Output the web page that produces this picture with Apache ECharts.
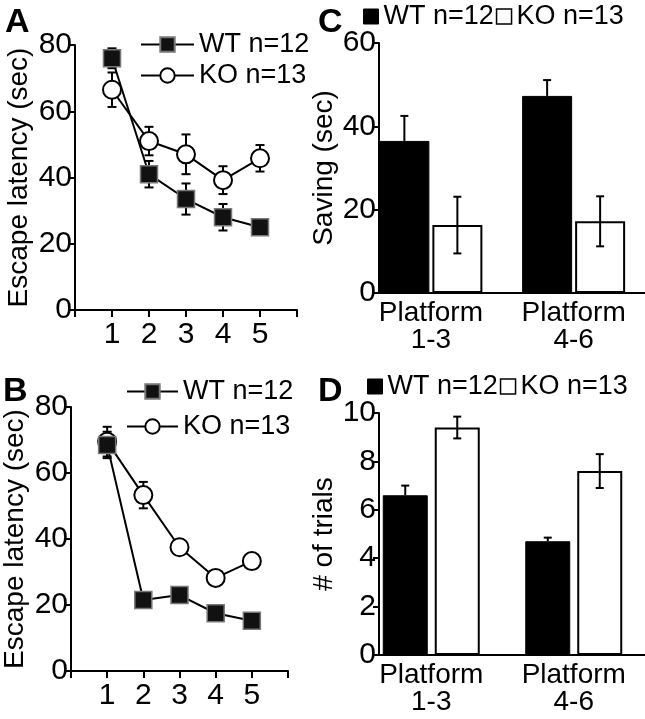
<!DOCTYPE html>
<html><head><meta charset="utf-8">
<script src="https://cdn.jsdelivr.net/npm/echarts@6/dist/echarts.min.js"></script>
<style>html,body{margin:0;padding:0;background:#fff}#c{width:645px;height:719px}</style>
</head><body><div id="c"></div>
<script>
// ---- data ----
const trials = [1, 2, 3, 4, 5];
const aWT = [76, 41, 33.5, 28, 25];
const aWTerr = [3, 4, 4.7, 4, 1.5];
const aKO = [66.5, 51, 47, 39.2, 45.8];
const aKOerr = [5.2, 4.3, 6, 4.2, 4];
const bWT = [68.5, 21.5, 23, 17.5, 15.2];
const bWTerr = [4, 1.2, 1.2, 1.2, 1];
const bKO = [69.5, 53.3, 37.5, 28.2, 33.3];
const bKOerr = [4.5, 4, 1.2, 1.2, 1.2];
const platforms = ['Platform\n1-3', 'Platform\n4-6'];
const cWT = [36.5, 47.3];
const cWTerr = [6, 3.8];
const cKO = [16.3, 17.2];
const cKOerr = [6.8, 6];
const dWT = [6.6, 4.7];
const dWTerr = [0.4, 0.15];
const dKO = [9.4, 7.6];
const dKOerr = [0.45, 0.7];
const legendLabels = {wtA: 'WT n=12', koA: 'KO n=13', wtB: 'WT n=12', koB: 'KO n=13',
  wtC: 'WT n=12', koC: 'KO n=13', wtD: 'WT n=12', koD: 'KO n=13'};

// ---- styling ----
const FONT = 'Liberation Sans, Arial, Helvetica, sans-serif';
const BLACK = '#000';
const C_BW = 50, C_GAP = 3;
const D_BW = 45, D_GAP = 7;

function errRender(offset, both, capW) {
  return function (params, api) {
    const x = api.value(0), y = api.value(1), e = api.value(2);
    const p = api.coord([x, y]);
    const t = api.coord([x, y + e]);
    const b = api.coord([x, y - e]);
    const cx = p[0] + offset;
    const st = {stroke: BLACK, lineWidth: 2};
    const ch = [
      {type: 'line', shape: {x1: cx, y1: t[1], x2: cx, y2: both ? b[1] : p[1]}, style: st},
      {type: 'line', shape: {x1: cx - capW / 2, y1: t[1], x2: cx + capW / 2, y2: t[1]}, style: st}
    ];
    if (both) ch.push({type: 'line', shape: {x1: cx - capW / 2, y1: b[1], x2: cx + capW / 2, y2: b[1]}, style: st});
    return {type: 'group', children: ch};
  };
}

const axisLineS = {show: true, lineStyle: {color: BLACK, width: 2}};
const tickS = (len, inside) => ({show: true, length: len, inside: !!inside, lineStyle: {color: BLACK, width: 2}});
const lblS = (extra) => Object.assign({color: BLACK, fontSize: 30, fontFamily: FONT}, extra || {});

function lineYAxis(grid) {
  return {gridIndex: grid, type: 'value', min: 0, max: 80, interval: 20,
    axisLine: axisLineS, axisTick: tickS(6), splitLine: {show: false},
    axisLabel: lblS({margin: 3}),
    name: 'Escape latency (sec)', nameLocation: 'middle', nameGap: 42,
    nameTextStyle: {color: BLACK, fontSize: 28, fontFamily: FONT}};
}
function lineXAxis(grid) {
  return {gridIndex: grid, type: 'value', min: 0, max: 6, interval: 1,
    axisLine: axisLineS, axisTick: tickS(7), splitLine: {show: false},
    axisLabel: lblS({margin: 10, formatter: v => trials.includes(v) ? String(v) : ''})};
}

const option = {
  animation: false,
  backgroundColor: '#fff',
  title: [
    {text: 'A', left: 5, top: 6},
    {text: 'B', left: 3, top: 375},
    {text: 'C', left: 318, top: 6},
    {text: 'D', left: 318, top: 375}
  ].map(t => Object.assign(t, {padding: 0, textStyle: {fontSize: 34, fontWeight: 'bold', color: BLACK, fontFamily: FONT}})),
  grid: [
    {left: 75, top: 45, width: 222, height: 265},
    {left: 67, top: 407, width: 221, height: 264},
    {left: 359.5, top: 43, width: 306, height: 250},
    {left: 379, top: 43, width: 270, height: 250},
    {left: 360, top: 413, width: 308, height: 242},
    {left: 379, top: 413, width: 270, height: 242}
  ],
  xAxis: [
    lineXAxis(0),
    lineXAxis(1),
    {gridIndex: 2, type: 'category', data: platforms, axisLine: {show: false}, axisTick: {show: false},
      axisLabel: lblS({fontSize: 28, lineHeight: 27, margin: 7})},
    {gridIndex: 3, type: 'value', min: 0, max: 1, axisLine: axisLineS, axisTick: {show: false}, axisLabel: {show: false}, splitLine: {show: false}},
    {gridIndex: 4, type: 'category', data: platforms, axisLine: {show: false}, axisTick: {show: false},
      axisLabel: lblS({fontSize: 28, lineHeight: 27, margin: 7})},
    {gridIndex: 5, type: 'value', min: 0, max: 1, axisLine: axisLineS, axisTick: {show: false}, axisLabel: {show: false}, splitLine: {show: false}}
  ],
  yAxis: [
    lineYAxis(0),
    lineYAxis(1),
    {gridIndex: 2, type: 'value', min: 0, max: 60, show: false},
    {gridIndex: 3, type: 'value', min: 0, max: 60, interval: 20,
      axisLine: axisLineS, axisTick: tickS(6), splitLine: {show: false}, axisLabel: lblS({margin: 3}),
      name: 'Saving (sec)', nameLocation: 'middle', nameGap: 36,
      nameTextStyle: {color: BLACK, fontSize: 28, fontFamily: FONT}},
    {gridIndex: 4, type: 'value', min: 0, max: 10, show: false},
    {gridIndex: 5, type: 'value', min: 0, max: 10, interval: 2,
      axisLine: axisLineS, axisTick: tickS(6), splitLine: {show: false}, axisLabel: lblS({margin: 3}),
      name: '# of trials', nameLocation: 'middle', nameGap: 39,
      nameTextStyle: {color: BLACK, fontSize: 28, fontFamily: FONT}}
  ],
  legend: [
    {left: 140, top: 31, orient: 'vertical', itemGap: 4, itemWidth: 53, itemHeight: 18,
      data: ['wtA', 'koA']},
    {left: 126, top: 378, orient: 'vertical', itemGap: 8, itemWidth: 51, itemHeight: 18,
      data: ['wtB', 'koB']},
    {left: 363, top: 3, itemGap: 2, itemWidth: 15, itemHeight: 15, icon: 'rect',
      data: [{name: 'wtC', itemStyle: {color: BLACK, borderColor: BLACK, borderWidth: 1}},
             {name: 'koC', itemStyle: {color: '#fff', borderColor: BLACK, borderWidth: 1.5}}]},
    {left: 367, top: 373, itemGap: 2, itemWidth: 15, itemHeight: 15, icon: 'rect',
      data: [{name: 'wtD', itemStyle: {color: BLACK, borderColor: BLACK, borderWidth: 1}},
             {name: 'koD', itemStyle: {color: '#fff', borderColor: BLACK, borderWidth: 1.5}}]}
  ].map(l => Object.assign(l, {selectedMode: false, padding: 0, formatter: n => legendLabels[n],
    textStyle: {color: BLACK, fontSize: 27, fontFamily: FONT}})),
  series: []
};

function addLinePanel(grid, wt, wtErr, ko, koErr, wtName, koName) {
  const wtPts = trials.map((t, i) => [t, wt[i]]);
  const koPts = trials.map((t, i) => [t, ko[i]]);
  option.series.push(
    {type: 'custom', xAxisIndex: grid, yAxisIndex: grid, z: 1, renderItem: errRender(0, true, 9),
      data: trials.map((t, i) => [t, wt[i], wtErr[i]])},
    {type: 'custom', xAxisIndex: grid, yAxisIndex: grid, z: 1, renderItem: errRender(0, true, 9),
      data: trials.map((t, i) => [t, ko[i], koErr[i]])},
    {name: koName, type: 'line', xAxisIndex: grid, yAxisIndex: grid, z: 3, data: koPts,
      symbol: 'circle', symbolSize: 18, lineStyle: {color: BLACK, width: 2},
      itemStyle: {color: '#fff', borderColor: BLACK, borderWidth: 2}},
    {name: wtName, type: 'line', xAxisIndex: grid, yAxisIndex: grid, z: 4, data: wtPts,
      symbol: 'rect', symbolSize: 17, lineStyle: {color: BLACK, width: 2},
      itemStyle: {color: '#111', borderColor: '#777', borderWidth: 1.5}}
  );
}
addLinePanel(0, aWT, aWTerr, aKO, aKOerr, 'wtA', 'koA');
addLinePanel(1, bWT, bWTerr, bKO, bKOerr, 'wtB', 'koB');

function addBarPanel(grid, wt, wtErr, ko, koErr, bw, gap, wtName, koName) {
  const off = (bw + gap) / 2;
  option.series.push(
    {name: wtName, type: 'bar', xAxisIndex: grid, yAxisIndex: grid, data: wt, barWidth: bw,
      barGap: (gap / bw * 100) + '%', itemStyle: {color: BLACK, borderColor: BLACK, borderWidth: 1}},
    {name: koName, type: 'bar', xAxisIndex: grid, yAxisIndex: grid, data: ko, barWidth: bw,
      barGap: (gap / bw * 100) + '%', itemStyle: {color: '#fff', borderColor: BLACK, borderWidth: 2}},
    {type: 'custom', xAxisIndex: grid, yAxisIndex: grid, z: 5, renderItem: errRender(-off, false, 8),
      data: platforms.map((p, i) => [i, wt[i], wtErr[i]])},
    {type: 'custom', xAxisIndex: grid, yAxisIndex: grid, z: 5, renderItem: errRender(off, true, 8),
      data: platforms.map((p, i) => [i, ko[i], koErr[i]])}
  );
}
addBarPanel(2, cWT, cWTerr, cKO, cKOerr, C_BW, C_GAP, 'wtC', 'koC');
addBarPanel(4, dWT, dWTerr, dKO, dKOerr, D_BW, D_GAP, 'wtD', 'koD');

const chart = echarts.init(document.getElementById('c'), null, {renderer: 'canvas'});
chart.setOption(option);
</script>
</body></html>
